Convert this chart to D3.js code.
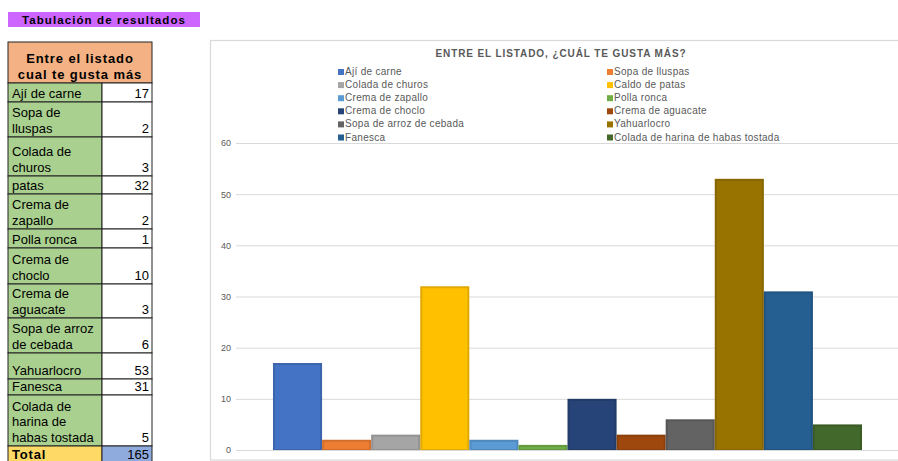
<!DOCTYPE html>
<html><head><meta charset="utf-8">
<script src="https://cdn.jsdelivr.net/npm/d3@7"></script>
<style>
html,body{margin:0;padding:0;background:#fff;}
svg{display:block;font-family:"Liberation Sans",Arial,sans-serif;}
</style></head>
<body><svg id="c" width="898" height="461"></svg>
<script>
// ---- data ----
const pageTitle = "Tabulación de resultados";
const tableHeader = ["Entre el listado", "cual te gusta más"];
const tableLabels = ["Ají de carne", "Sopa de\nlluspas", "Colada de\nchuros", "patas", "Crema de\nzapallo", "Polla ronca", "Crema de\nchoclo", "Crema de\naguacate", "Sopa de arroz\nde cebada", "Yahuarlocro", "Fanesca", "Colada de\nharina de\nhabas tostada"];
const seriesNames = ["Ají de carne", "Sopa de lluspas", "Colada de churos", "Caldo de patas", "Crema de zapallo", "Polla ronca", "Crema de choclo", "Crema de aguacate", "Sopa de arroz de cebada", "Yahuarlocro", "Fanesca", "Colada de harina de habas tostada"];
const seriesValues = [17, 2, 3, 32, 2, 1, 10, 3, 6, 53, 31, 5];
const totalLabel = "Total";
const totalValue = 165;
const chartTitle = "ENTRE EL LISTADO, ¿CUÁL TE GUSTA MÁS?";
const yTicks = [0, 10, 20, 30, 40, 50, 60];
const categories = ["Entre el listado"];

// ---- styles / layout ----
const colors = ["#4472c4", "#ed7d31", "#a5a5a5", "#ffc000", "#5b9bd5", "#70ad47", "#264478", "#9e480e", "#636363", "#997300", "#255e91", "#43682b"];
const rowHeights = [19, 35, 39, 18, 35, 19, 36, 34, 35, 26, 16, 51];

const svg = d3.select("#c");

// page title
svg.append("rect").attr("x", 8).attr("y", 12).attr("width", 192).attr("height", 15).attr("fill", "#cc66ff");
svg.append("text").attr("x", 104).attr("y", 24).attr("text-anchor", "middle")
  .attr("font-size", 11.5).attr("font-weight", "bold").attr("letter-spacing", 1.1).attr("fill", "#000")
  .text(pageTitle);

// table
const tx0 = 8, tx1 = 102, tx2 = 152;
const table = svg.append("g");
table.append("rect").attr("x", tx0).attr("y", 42).attr("width", tx2 - tx0).attr("height", 41).attr("fill", "#f4b183").attr("stroke", "#222").attr("stroke-width", 1);
tableHeader.forEach((t, i) => {
  table.append("text").attr("x", (tx0 + tx2) / 2).attr("y", 63 + i * 15.5).attr("text-anchor", "middle")
    .attr("font-size", 13).attr("font-weight", "bold").attr("letter-spacing", 0.9).text(t);
});
let yy = 83;
tableLabels.forEach((lab, i) => {
  const h = rowHeights[i];
  table.append("rect").attr("x", tx0).attr("y", yy).attr("width", tx1 - tx0).attr("height", h).attr("fill", "#a9d08e").attr("stroke", "#222");
  table.append("rect").attr("x", tx1).attr("y", yy).attr("width", tx2 - tx1).attr("height", h).attr("fill", "#fff").attr("stroke", "#222");
  const lines = lab.split("\n");
  lines.forEach((ln, j) => {
    table.append("text").attr("x", 12).attr("y", yy + h - 4.5 - (lines.length - 1 - j) * 15.5)
      .attr("font-size", 13).text(ln);
  });
  table.append("text").attr("x", tx2 - 3).attr("y", yy + h - 4.5).attr("text-anchor", "end")
    .attr("font-size", 13).text(seriesValues[i]);
  yy += h;
});
table.append("rect").attr("x", tx0).attr("y", yy).attr("width", tx1 - tx0).attr("height", 20).attr("fill", "#ffd966").attr("stroke", "#222");
table.append("rect").attr("x", tx1).attr("y", yy).attr("width", tx2 - tx1).attr("height", 20).attr("fill", "#8faadc").attr("stroke", "#222");
table.append("text").attr("x", 12).attr("y", yy + 12.5).attr("font-size", 13).attr("font-weight", "bold").attr("letter-spacing", 0.8).text(totalLabel);
table.append("text").attr("x", tx2 - 3).attr("y", yy + 12.5).attr("text-anchor", "end").attr("font-size", 13).text(totalValue);

// chart frame
svg.append("rect").attr("x", 210.5).attr("y", 40.5).attr("width", 720).attr("height", 419.5)
  .attr("fill", "#fff").attr("stroke", "#d9d9d9").attr("stroke-width", 1.2);

svg.append("text").attr("x", 561).attr("y", 57).attr("text-anchor", "middle")
  .attr("font-size", 10).attr("font-weight", "bold").attr("letter-spacing", 0.9).attr("fill", "#595959")
  .text(chartTitle);

// scales
const plotL = 236, plotR = 899, plotT = 143, plotB = 450;
const y = d3.scaleLinear().domain([0, 60]).range([plotB, plotT]);
const x0 = d3.scaleBand().domain(categories).range([plotL, plotR]).paddingInner(0).paddingOuter(0.0628);
const x1 = d3.scaleBand().domain(seriesNames).range([0, x0.bandwidth()]).padding(0);

// gridlines
const grid = svg.append("g").attr("transform", `translate(${plotL},0)`)
  .call(d3.axisLeft(y).tickValues(yTicks).tickSize(-(plotR - plotL)).tickFormat(""));
grid.select(".domain").remove();
grid.selectAll(".tick line").attr("stroke", "#d9d9d9").attr("stroke-width", 1);

// y axis labels
const ya = svg.append("g").attr("transform", `translate(${plotL - 5},0)`)
  .call(d3.axisLeft(y).tickValues(yTicks).tickSize(0).tickPadding(0));
ya.select(".domain").remove();
ya.selectAll("text").attr("font-size", 9).attr("fill", "#595959").attr("font-family", "Liberation Sans, Arial, sans-serif");

// bars
const gBars = svg.append("g").attr("transform", `translate(${x0(categories[0])},0)`);
gBars.selectAll("rect").data(seriesValues).join("rect")
  .attr("x", (d, i) => x1(seriesNames[i]) + 1)
  .attr("y", d => y(d) + 1)
  .attr("width", x1.bandwidth() - 2)
  .attr("height", d => Math.max(0, y(0) - y(d) - 1))
  .attr("fill", (d, i) => colors[i])
  .attr("stroke", (d, i) => d3.color(colors[i]).darker(0.35))
  .attr("stroke-width", 2);

// baseline redraw
svg.append("line").attr("x1", plotL).attr("x2", plotR).attr("y1", plotB + 0.5).attr("y2", plotB + 0.5).attr("stroke", "#d9d9d9");

// legend
const leg = svg.append("g");
seriesNames.forEach((n, i) => {
  const col = i % 2, row = Math.floor(i / 2);
  const lx = col === 0 ? 338 : 607;
  const ly = 75 + row * 13.1;
  leg.append("rect").attr("x", lx).attr("y", ly - 6).attr("width", 6).attr("height", 6).attr("fill", colors[i]);
  leg.append("text").attr("x", lx + 7).attr("y", ly).attr("font-size", 10).attr("letter-spacing", 0.3)
    .attr("fill", "#595959").text(n);
});
</script></body></html>
